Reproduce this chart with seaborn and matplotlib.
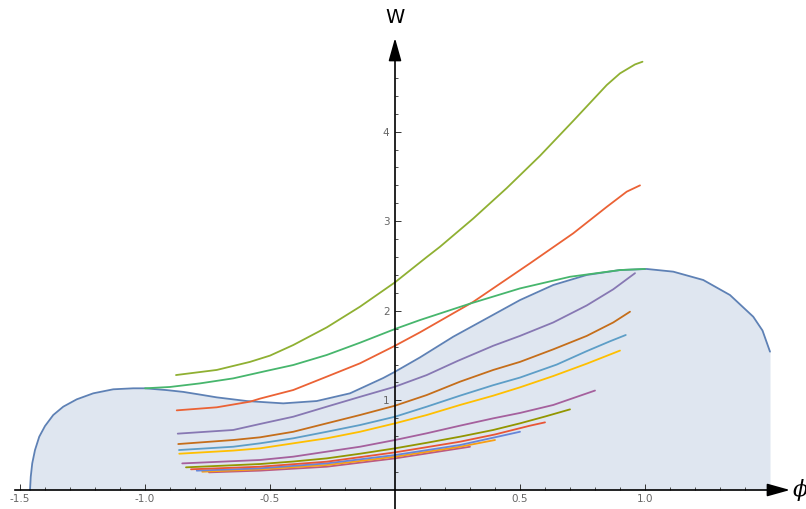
import matplotlib
matplotlib.use("Agg")
import matplotlib.pyplot as plt
import seaborn as sns
import pandas as pd
from matplotlib.ticker import FixedLocator

# potential W(phi), filled underneath
pot_x = [-1.46, -1.457, -1.451, -1.44, -1.423, -1.40, -1.367, -1.327, -1.273, -1.207,
         -1.127, -1.047, -1.0, -0.913, -0.847, -0.78, -0.713, -0.593, -0.447, -0.313,
         -0.18, -0.047, 0.0, 0.1, 0.233, 0.367, 0.5, 0.633, 0.767, 0.9,
         1.007, 1.113, 1.233, 1.34, 1.433, 1.47, 1.50]
pot_y = [0.0, 0.148, 0.298, 0.446, 0.595, 0.714, 0.837, 0.93, 1.012, 1.079,
         1.124, 1.135, 1.135, 1.115, 1.095, 1.065, 1.034, 0.993, 0.967, 0.993,
         1.079, 1.25, 1.32, 1.48, 1.711, 1.916, 2.12, 2.288, 2.40, 2.455,
         2.467, 2.437, 2.344, 2.176, 1.934, 1.78, 1.544]

# trajectories (bottom to top in the picture)
pink_x = [-0.744, -0.54, -0.273, 0.0, 0.30]
pink_y = [0.197, 0.216, 0.26, 0.353, 0.483]

orange_x = [-0.771, -0.54, -0.273, 0.0, 0.26, 0.40]
orange_y = [0.204, 0.231, 0.279, 0.372, 0.483, 0.558]

blue_x = [-0.793, -0.54, -0.273, 0.0, 0.26, 0.50]
blue_y = [0.216, 0.242, 0.297, 0.39, 0.502, 0.65]

red_x = [-0.816, -0.54, -0.273, 0.0, 0.26, 0.40, 0.54, 0.60]
red_y = [0.231, 0.26, 0.316, 0.42, 0.539, 0.62, 0.718, 0.755]

olive_x = [-0.836, -0.54, -0.407, -0.273, -0.14, 0.0, 0.127, 0.26, 0.393, 0.5, 0.6, 0.70]
olive_y = [0.253, 0.29, 0.318, 0.353, 0.405, 0.465, 0.527, 0.595, 0.67, 0.744, 0.82, 0.90]

magenta_x = [-0.851, -0.647, -0.54, -0.407, -0.273, -0.14, 0.0, 0.127, 0.26, 0.393, 0.5, 0.633, 0.80]
magenta_y = [0.297, 0.322, 0.335, 0.372, 0.428, 0.483, 0.558, 0.633, 0.718, 0.80, 0.86, 0.949, 1.11]

yellow_x = [-0.863, -0.647, -0.54, -0.407, -0.273, -0.14, 0.0, 0.127, 0.26, 0.393, 0.5, 0.633, 0.767, 0.90]
yellow_y = [0.405, 0.44, 0.465, 0.521, 0.577, 0.65, 0.744, 0.837, 0.949, 1.053, 1.146, 1.272, 1.41, 1.556]

ltblue_x = [-0.864, -0.647, -0.54, -0.407, -0.273, -0.14, 0.0, 0.127, 0.26, 0.393, 0.5, 0.647, 0.767, 0.86, 0.923]
ltblue_y = [0.446, 0.483, 0.521, 0.577, 0.65, 0.725, 0.818, 0.93, 1.053, 1.17, 1.255, 1.40, 1.55, 1.66, 1.73]

brown_x = [-0.867, -0.647, -0.54, -0.407, -0.273, -0.14, 0.0, 0.127, 0.26, 0.393, 0.5, 0.633, 0.767, 0.873, 0.94]
brown_y = [0.513, 0.558, 0.588, 0.65, 0.744, 0.837, 0.941, 1.06, 1.209, 1.34, 1.43, 1.57, 1.72, 1.87, 1.99]

purple_x = [-0.869, -0.647, -0.54, -0.407, -0.273, -0.14, 0.0, 0.127, 0.25, 0.393, 0.5, 0.633, 0.767, 0.873, 0.96]
purple_y = [0.629, 0.67, 0.737, 0.818, 0.93, 1.04, 1.153, 1.283, 1.44, 1.61, 1.72, 1.87, 2.06, 2.24, 2.42]

orred_x = [-0.873, -0.713, -0.58, -0.54, -0.407, -0.273, -0.14, 0.0, 0.1, 0.313, 0.54, 0.713, 0.847, 0.927, 0.98]
orred_y = [0.889, 0.923, 0.986, 1.02, 1.116, 1.265, 1.414, 1.61, 1.76, 2.10, 2.53, 2.865, 3.16, 3.33, 3.40]

lime_x = [-0.876, -0.713, -0.58, -0.5, -0.407, -0.273, -0.14, 0.0, 0.127, 0.18, 0.313, 0.447,
          0.58, 0.713, 0.847, 0.9, 0.96, 0.99]
lime_y = [1.283, 1.34, 1.43, 1.50, 1.618, 1.815, 2.046, 2.318, 2.60, 2.715, 3.03, 3.37,
          3.73, 4.12, 4.52, 4.65, 4.75, 4.78]

green_x = [-1.0, -0.9, -0.78, -0.647, -0.513, -0.407, -0.273, -0.14, 0.0, 0.1, 0.3, 0.5, 0.7, 0.9, 1.0]
green_y = [1.135, 1.15, 1.19, 1.246, 1.33, 1.395, 1.507, 1.644, 1.797, 1.897, 2.08, 2.25, 2.38, 2.455, 2.467]

x_major = [-1.5, -1.0, -0.5, 0.5, 1.0]
x_labels = ["-1.5", "-1.0", "-0.5", "0.5", "1.0"]
y_major = [1, 2, 3, 4]
y_labels = ["1", "2", "3", "4"]

sns.set_theme(style="white")
plt.rcParams['font.family'] = ['DejaVu Sans']

fig = plt.figure(figsize=(8.06, 5.09), dpi=100)
ax = fig.add_axes([0, 0, 1, 1])
ax.set_axisbelow(False)

pot = pd.DataFrame({"phi": pot_x, "W": pot_y})
ax.fill_between(pot["phi"], 0, pot["W"], color="#DFE6F0", lw=0, zorder=1)
sns.lineplot(data=pot, x="phi", y="W", color="#5E81B5", lw=1.3, sort=False,
             estimator=None, ax=ax, zorder=3)

curves = [
    (pink_x, pink_y, "#BC5B80"),
    (orange_x, orange_y, "#F89F13"),
    (blue_x, blue_y, "#6685D9"),
    (red_x, red_y, "#E95536"),
    (olive_x, olive_y, "#929600"),
    (magenta_x, magenta_y, "#A5609D"),
    (yellow_x, yellow_y, "#FFBF00"),
    (ltblue_x, ltblue_y, "#5D9EC7"),
    (brown_x, brown_y, "#C56E1A"),
    (purple_x, purple_y, "#8778B3"),
    (orred_x, orred_y, "#EB6235"),
    (lime_x, lime_y, "#8FB032"),
    (green_x, green_y, "#47B66D"),
]
for cx, cy, col in curves:
    sns.lineplot(x=cx, y=cy, color=col, lw=1.3, sort=False, estimator=None,
                 ax=ax, zorder=4)

ax.set_xlim(-1.58, 1.644)
ax.set_ylim(-0.212, 5.469)
ax.set_xlabel("")
ax.set_ylabel("")

# axes through the origin
for side in ["top", "right"]:
    ax.spines[side].set_visible(False)
ax.spines["bottom"].set_position(("data", 0))
ax.spines["left"].set_position(("data", 0))
ax.spines["bottom"].set_bounds(-1.52, 1.52)
ax.spines["left"].set_bounds(-0.212, 4.96)
for side in ["bottom", "left"]:
    ax.spines[side].set_color("black")
    ax.spines[side].set_linewidth(1.2)
    ax.spines[side].set_zorder(5)

arrow = dict(arrowstyle="-|>,head_length=1.0,head_width=0.28", color="black",
             lw=1.2, mutation_scale=14, shrinkA=0, shrinkB=0)
ax.annotate("", xy=(1.58, 0), xytext=(1.50, 0), arrowprops=arrow, zorder=6)
ax.annotate("", xy=(0, 5.045), xytext=(0, 4.93), arrowprops=arrow, zorder=6)

ax.xaxis.set_major_locator(FixedLocator(x_major))
ax.set_xticklabels(x_labels)
ax.xaxis.set_minor_locator(FixedLocator([i / 10 for i in range(-15, 15) if i % 5 != 0]))
ax.yaxis.set_major_locator(FixedLocator(y_major))
ax.set_yticklabels(y_labels)
ax.yaxis.set_minor_locator(FixedLocator([i / 5 for i in range(1, 25) if i % 5 != 0]))

ax.tick_params(which="both", bottom=True, left=True, top=False, right=False)
ax.tick_params(which="major", direction="in", length=4, width=0.7, color="#333333",
               labelsize=7.5, labelcolor="#666666", pad=3)
ax.tick_params(which="minor", direction="in", length=2.5, width=0.6, color="#333333")
ax.tick_params(axis="y", which="major", pad=4)
ax.grid(False)

ax.text(0, 5.27, "W", ha="center", va="center", fontsize=14, color="black")
ax.text(1.59, 0.0, "ϕ", ha="left", va="center", fontsize=16, style="italic",
        family=["DejaVu Serif"], color="black")

fig.savefig("out.png", dpi=100)
